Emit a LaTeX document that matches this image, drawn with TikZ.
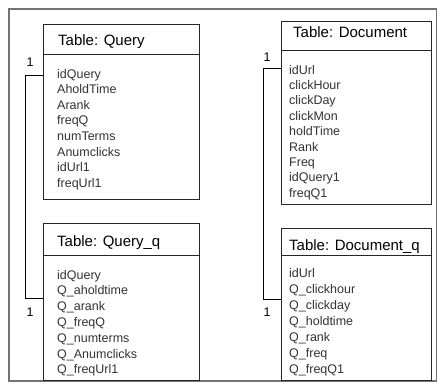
\documentclass[tikz,border=0pt]{standalone}
\usepackage{fontspec}
\setmainfont{Liberation Sans}
\begin{document}
\begin{tikzpicture}[x=1pt,y=-1pt,
  tbl/.style={draw=black!85, line width=0.9pt, rectangle, inner sep=0pt, anchor=north west},
  title/.style={anchor=base west, inner sep=0pt, font=\fontsize{15}{15}\selectfont, text=black},
  field/.style={anchor=base west, inner sep=0pt, font=\fontsize{12.5}{12.5}\selectfont, text=black!80},
  card/.style={inner sep=0pt, font=\fontsize{12.5}{12.5}\selectfont, text=black},
  link/.style={draw=black, line width=0.9pt}]

% canvas and outer frame
\useasboundingbox (0,0) rectangle (438,383);
\fill[white] (0,0) rectangle (438,383);
\draw[draw=black!55, line width=1.6pt] (9,9) -- (436.5,9) -- (436.5,381) -- (9,381) -- cycle;

% ---- Table: Query ----
\node[tbl, minimum width=156, minimum height=175] (query) at (43,24) {};
\draw[black!85, line width=0.9pt] ([yshift=-30]query.north west) -- ([yshift=-30]query.north east);
\node[title] (qt) at (58,45) {Table: Query};
\foreach \t [count=\i] in {idQuery,AholdTime,Arank,freqQ,numTerms,Anumclicks,idUrl1,freqUrl1}
  \node[field] (q\i) at (57,{78+(\i-1)*15.6}) {\t};

% ---- Table: Query_q ----
\node[tbl, minimum width=156, minimum height=157] (queryq) at (43,223) {};
\draw[black!85, line width=0.9pt] ([yshift=-32]queryq.north west) -- ([yshift=-32]queryq.north east);
\node[title] (qqt) at (57,246) {Table: Query\_q};
\foreach \t [count=\i] in {idQuery,Q\_aholdtime,Q\_arank,Q\_freqQ,Q\_numterms,Q\_Anumclicks,Q\_freqUrl1}
  \node[field] (qq\i) at (57,{279+(\i-1)*15.8}) {\t};

% ---- Table: Document ----
\node[tbl, minimum width=150, minimum height=183] (doc) at (281,21) {};
\draw[black!85, line width=0.9pt] ([yshift=-29]doc.north west) -- ([yshift=-29]doc.north east);
\node[title] (dt) at (293,37) {Table: Document};
\foreach \t [count=\i] in {idUrl,clickHour,clickDay,clickMon,holdTime,Rank,Freq,idQuery1,freqQ1}
  \node[field] (d\i) at (289,{74+(\i-1)*15.4}) {\t};

% ---- Table: Document_q ----
\node[tbl, minimum width=150, minimum height=152] (docq) at (281,228) {};
\draw[black!85, line width=0.9pt] ([yshift=-27]docq.north west) -- ([yshift=-27]docq.north east);
\node[title] (dqt) at (289,250) {Table: Document\_q};
\foreach \t [count=\i] in {idUrl,Q\_clickhour,Q\_clickday,Q\_holdtime,Q\_rank,Q\_freq,Q\_freqQ1}
  \node[field] (dq\i) at (289,{277+(\i-1)*16.1}) {\t};

% ---- one-to-one links ----
\coordinate (qa) at ([yshift=-51]query.north west);
\coordinate (qb) at ([yshift=-75]queryq.north west);
\draw[link] (qa) -- ++(-18,0) |- (qb);
\node[card] (c1) at (30,62) {1};
\node[card] (c2) at (30,312) {1};

\coordinate (da) at ([yshift=-47]doc.north west);
\coordinate (db) at ([yshift=-71]docq.north west);
\draw[link] (da) -- ++(-18,0) |- (db);
\node[card] (c3) at (267,57) {1};
\node[card] (c4) at (267,312) {1};
\end{tikzpicture}
\end{document}
